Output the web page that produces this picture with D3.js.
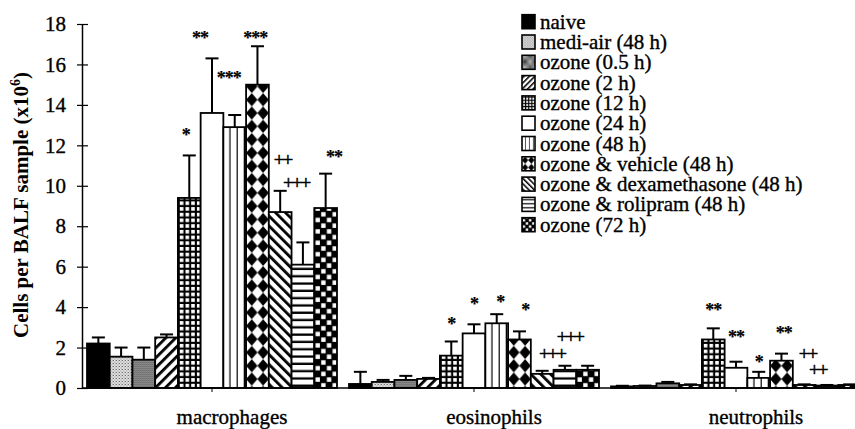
<!DOCTYPE html>
<html>
<head>
<meta charset="utf-8">
<script src="https://cdn.jsdelivr.net/npm/d3@7/dist/d3.min.js"></script>
<style>
  html, body { margin: 0; padding: 0; background: #fff; }
  svg { display: block; }
  text { font-family: "Liberation Serif", "Times New Roman", serif; fill: #000; }
</style>
</head>
<body>
<svg id="chart" width="855" height="429"></svg>
<script>
// ---------------- data ----------------
const categories = ["macrophages", "eosinophils", "neutrophils"];
const seriesNames = [
  "naive", "medi-air (48 h)", "ozone (0.5 h)", "ozone (2 h)", "ozone (12 h)",
  "ozone (24 h)", "ozone (48 h)", "ozone & vehicle (48 h)",
  "ozone & dexamethasone (48 h)", "ozone & rolipram (48 h)", "ozone (72 h)"
];
const macrophages    = [2.2, 1.55, 1.4, 2.5, 9.4, 13.6, 12.9, 15.0, 8.7, 6.1, 8.9];
const macrophagesSEM = [0.3, 0.45, 0.6, 0.15, 2.1, 2.7, 0.6, 1.9, 1.05, 1.1, 1.7];
const eosinophils    = [0.2, 0.3, 0.4, 0.45, 1.6, 2.7, 3.2, 2.4, 0.7, 0.9, 0.9];
const eosinophilsSEM = [0.6, 0.1, 0.2, 0.05, 0.7, 0.45, 0.45, 0.4, 0.15, 0.2, 0.2];
const neutrophils    = [0.08, 0.1, 0.23, 0.15, 2.4, 1.0, 0.5, 1.35, 0.15, 0.12, 0.15];
const neutrophilsSEM = [0.03, 0.02, 0.07, 0.03, 0.55, 0.3, 0.3, 0.35, 0.03, 0.03, 0.03];
const yTicks = [0, 2, 4, 6, 8, 10, 12, 14, 16, 18];
const yLabel = "Cells per BALF sample (x10";
const yLabelSup = "6";
// significance marks: level (data units) and shift (in bar widths)
const annotations = [
  { cat: "macrophages", s: 4,  text: "*",   at: 12.64, shift: -0.15 },
  { cat: "macrophages", s: 5,  text: "**",  at: 17.44, shift: -0.53 },
  { cat: "macrophages", s: 6,  text: "***", at: 15.45, shift: -0.26 },
  { cat: "macrophages", s: 7,  text: "***", at: 17.44, shift: -0.1 },
  { cat: "macrophages", s: 8,  text: "++",  at: 11.25, shift: 0.1 },
  { cat: "macrophages", s: 9,  text: "+++", at: 10.1,  shift: -0.3 },
  { cat: "macrophages", s: 10, text: "**",  at: 11.53, shift: 0.37 },
  { cat: "eosinophils", s: 4,  text: "*",   at: 3.27,  shift: 0 },
  { cat: "eosinophils", s: 5,  text: "*",   at: 4.26,  shift: 0 },
  { cat: "eosinophils", s: 6,  text: "*",   at: 4.36,  shift: 0.15 },
  { cat: "eosinophils", s: 7,  text: "*",   at: 3.96,  shift: 0.25 },
  { cat: "eosinophils", s: 8,  text: "+++", at: 1.63,  shift: 0.43 },
  { cat: "eosinophils", s: 9,  text: "+++", at: 2.48,  shift: 0.22 },
  { cat: "neutrophils", s: 4,  text: "**",  at: 4.0,   shift: 0 },
  { cat: "neutrophils", s: 5,  text: "**",  at: 2.67,  shift: 0 },
  { cat: "neutrophils", s: 6,  text: "*",   at: 1.39,  shift: 0 },
  { cat: "neutrophils", s: 7,  text: "**",  at: 2.82,  shift: 0.1 },
  { cat: "neutrophils", s: 8,  text: "++",  at: 1.63,  shift: 0.15 },
  { cat: "neutrophils", s: 9,  text: "++",  at: 0.84,  shift: -0.4 }
];

// ---------------- layout ----------------
const valuesByCat = { macrophages, eosinophils, neutrophils };
const semByCat = { macrophages: macrophagesSEM, eosinophils: eosinophilsSEM, neutrophils: neutrophilsSEM };

const svg = d3.select("#chart");
const axisX = 82, baseY = 388, topY = 24;

const y = d3.scaleLinear().domain([0, 18]).range([baseY, topY]);
const x0 = d3.scaleBand().domain(categories).range([87, 861]).paddingInner(12 / 262).paddingOuter(0);
const x1 = d3.scaleBand().domain(d3.range(seriesNames.length)).range([0, x0.bandwidth()]);
const bw = x1.bandwidth();

// ---------------- patterns ----------------
const defs = svg.append("defs");
function makePattern(id, i, k) {
  let p;
  const add = (w, h, tr) => {
    p = defs.append("pattern").attr("id", id).attr("patternUnits", "userSpaceOnUse")
      .attr("width", w * k).attr("height", h * k);
    if (tr) p.attr("patternTransform", tr);
    return p;
  };
  const rect = (x, yy, w, h, c) => p.append("rect").attr("x", x * k).attr("y", yy * k)
    .attr("width", w * k).attr("height", h * k).attr("fill", c);
  switch (i) {
    case 1: // light stipple
      add(3, 3); rect(0, 0, 3, 3, "#e6e6e6"); rect(0, 0, 1, 1, "#444"); rect(1.5, 1.5, 1, 1, "#666");
      break;
    case 2: // darker stipple
      add(2, 2); rect(0, 0, 2, 2, "#b8b8b8"); rect(0, 0, 1, 1, "#333"); rect(1, 1, 1, 1, "#555");
      break;
    case 3: // "/" stripes
      add(7, 7, "rotate(45)"); rect(0, 0, 7, 7, "#fff"); rect(0, 0, 2.8, 7, "#000");
      break;
    case 4: // grid
      add(5.7, 5.7); rect(0, 0, 5.7, 5.7, "#000"); rect(1.9, 1.9, 3.6, 3.6, "#fff");
      break;
    case 6: // vertical stripes
      add(7.2, 7.2); rect(0, 0, 7.2, 7.2, "#fff"); rect(6, 0, 2.4, 7.2, "#000");
      break;
    case 7: { // rotated checker (diamonds)
      add(11.35, 13.3); rect(0, 0, 11.35, 13.3, "#fff");
      const w = 11.35 * k, h = 13.3 * k;
      p.append("path").attr("fill", "#000").attr("d",
        `M${w / 2},0 L${w},${h / 2} L${w / 2},${h} L0,${h / 2} Z`);
      break;
    }
    case 8: // "\" stripes
      add(7, 7, "rotate(-45)"); rect(0, 0, 7, 7, "#fff"); rect(0, 0, 2.8, 7, "#000");
      break;
    case 9: // horizontal stripes
      add(7.3, 7.3); rect(0, 0, 7.3, 7.3, "#fff"); rect(0, 5, 7.3, 2.3, "#000");
      break;
    case 10: // checker
      add(11.4, 11.4); rect(0, 0, 11.4, 11.4, "#000");
      rect(1.2, 1.2, 4.4, 4.4, "#fff"); rect(6.9, 6.9, 4.4, 4.4, "#fff");
      break;
  }
}
function fillFor(i, prefix) {
  if (i === 0) return "#000";
  if (i === 5) return "#fff";
  return `url(#${prefix}${i})`;
}
seriesNames.forEach((_, i) => {
  if (i !== 0 && i !== 5) { makePattern("pat" + i, i, 1); makePattern("leg" + i, i, 0.55); }
});

// ---------------- bars ----------------
const rows = [];
categories.forEach(c => seriesNames.forEach((s, i) => {
  rows.push({ cat: c, i, v: valuesByCat[c][i], e: semByCat[c][i] });
}));

const barG = svg.append("g").selectAll("g.bar").data(rows).join("g")
  .attr("class", "bar")
  .attr("transform", d => `translate(${x0(d.cat) + x1(d.i)},0)`);

barG.append("rect")
  .attr("x", 0).attr("width", bw)
  .attr("y", d => y(d.v)).attr("height", d => baseY - y(d.v))
  .attr("fill", d => fillFor(d.i, "pat"))
  .attr("stroke", "#000").attr("stroke-width", 1.8);

// error bars (upper only)
barG.append("line")
  .attr("x1", bw / 2).attr("x2", bw / 2)
  .attr("y1", d => y(d.v)).attr("y2", d => y(d.v + d.e))
  .attr("stroke", "#000").attr("stroke-width", 2);
barG.append("line")
  .attr("x1", bw / 2 - 6.5).attr("x2", bw / 2 + 6.5)
  .attr("y1", d => y(d.v + d.e)).attr("y2", d => y(d.v + d.e))
  .attr("stroke", "#000").attr("stroke-width", 2);

// ---------------- axes ----------------
svg.append("line").attr("x1", axisX).attr("x2", 855).attr("y1", baseY).attr("y2", baseY)
  .attr("stroke", "#000").attr("stroke-width", 1.5);

const yAxis = svg.append("g").attr("transform", `translate(${axisX},0)`)
  .call(d3.axisLeft(y).tickValues(yTicks).tickSizeInner(5).tickSizeOuter(0).tickPadding(11));
yAxis.select(".domain").attr("stroke", "#000").attr("stroke-width", 1.5);
yAxis.selectAll(".tick line").attr("stroke", "#000").attr("stroke-width", 1.2);
yAxis.selectAll(".tick").append("line").attr("x1", 0).attr("x2", 6)
  .attr("stroke", "#000").attr("stroke-width", 1.2);
yAxis.selectAll(".tick text")
  .style("font-family", '"Liberation Serif", serif').style("font-size", "21px")
  .attr("fill", "#000").attr("stroke", "#000").attr("stroke-width", 0.35);

// category ticks and labels
svg.append("g").selectAll("line").data(categories).join("line")
  .attr("x1", c => x0(c) + x0.bandwidth() / 2).attr("x2", c => x0(c) + x0.bandwidth() / 2)
  .attr("y1", baseY).attr("y2", baseY + 4)
  .attr("stroke", "#000").attr("stroke-width", 1);
svg.append("g").selectAll("text").data(categories).join("text")
  .attr("x", c => x0(c) + x0.bandwidth() / 2 + 20)
  .attr("y", 424)
  .attr("text-anchor", "middle")
  .style("font-size", "21px")
  .attr("stroke", "#000").attr("stroke-width", 0.35)
  .text(c => c);

// y label
const yl = svg.append("text")
  .attr("transform", "translate(28,205) rotate(-90)")
  .attr("text-anchor", "middle")
  .style("font-size", "21px").style("font-weight", "bold");
yl.append("tspan").text(yLabel);
yl.append("tspan").attr("dy", -8).style("font-size", "14px").text(yLabelSup);
yl.append("tspan").attr("dy", 8).text(")");

// ---------------- annotations ----------------
svg.append("g").selectAll("text").data(annotations).join("text")
  .attr("x", d => x0(d.cat) + x1(d.s) + bw / 2 + d.shift * bw)
  .attr("y", d => y(d.at) + (d.text[0] === "*" ? 8.5 : 5))
  .attr("text-anchor", "middle")
  .style("font-size", d => d.text[0] === "*" ? "18px" : "19px")
  .style("font-weight", d => d.text[0] === "*" ? "bold" : "normal")
  .style("letter-spacing", d => d.text[0] === "*" ? "-1px" : "-2px")
  .attr("stroke", "#000").attr("stroke-width", d => d.text[0] === "*" ? 0.2 : 0.5)
  .text(d => d.text);

// ---------------- legend ----------------
const leg = svg.append("g").selectAll("g").data(seriesNames).join("g")
  .attr("transform", (d, i) => `translate(522,${21.7 + i * 20.3})`);
leg.append("rect").attr("x", 0).attr("y", -7).attr("width", 13).attr("height", 14)
  .attr("fill", (d, i) => fillFor(i, "leg"))
  .attr("stroke", "#000").attr("stroke-width", 1.6);
leg.append("text").attr("x", 18).attr("y", 7)
  .style("font-size", "21px")
  .attr("stroke", "#000").attr("stroke-width", 0.35)
  .text(d => d);
</script>
</body>
</html>
